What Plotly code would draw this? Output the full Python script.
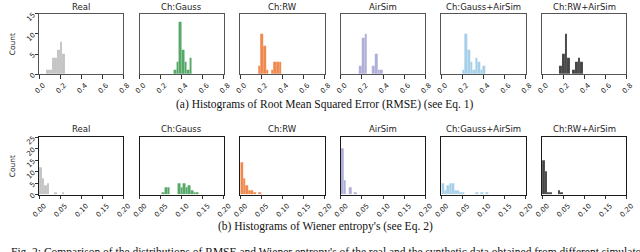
import plotly.graph_objects as go

W, H = 640, 252

names = ["Real", "Ch:Gauss", "Ch:RW", "AirSim", "Ch:Gauss+AirSim", "Ch:RW+AirSim"]
colors = ["#c4c4c4", "#55a868", "#f0884c", "#aeaed9", "#a6d0e8", "#454545"]

# (a) RMSE histograms: first bin edge, bin width, counts per bin
rmse_start = [0.07, 0.326, 0.17, 0.175, 0.197, 0.166]
rmse_width = [0.025, 0.0246, 0.0246, 0.0246, 0.0246, 0.0246]
rmse_real = [1, 1, 4, 4, 6, 8, 5]
rmse_gauss = [1, 3, 13, 6, 3, 1, 4]
rmse_rw = [2, 10, 7, 1, 0, 1, 3, 3, 3]
rmse_airsim = [2, 9, 10, 0, 0, 2, 5, 1, 1]
rmse_gauss_air = [1, 10, 6, 3, 1, 4, 3, 1, 2]
rmse_rw_air = [2, 5, 10, 4, 0, 1, 3, 4, 3]

# (b) Wiener entropy histograms
went_start = [0.0, 0.053, 0.0, 0.0, 0.0, 0.0]
went_width = [0.006, 0.0062, 0.0062, 0.0064, 0.0062, 0.0062]
went_real = [12, 7, 4, 5, 0, 0, 1, 0, 0, 1]
went_gauss = [1, 3, 3, 0, 0, 0, 5, 3, 5, 3, 4, 2, 1, 1]
went_rw = [14, 7, 4, 2, 2, 1, 0, 1]
went_airsim = [20, 6, 0, 3, 0, 1]
went_gauss_air = [5, 2, 4, 5, 5, 2, 2, 1, 1, 0, 0, 0, 0, 1, 0, 1, 0, 1]
went_rw_air = [15, 10, 1, 1, 0, 0, 2, 1]

rmse_ticks = [0.0, 0.2, 0.4, 0.6, 0.8]
rmse_ticktext = ["0.0", "0.2", "0.4", "0.6", "0.8"]
rmse_yticks = [0, 5, 10, 15]
went_ticks = [0.0, 0.05, 0.10, 0.15, 0.20]
went_ticktext = ["0.00", "0.05", "0.10", "0.15", "0.20"]
went_yticks = [0, 5, 10, 15, 20, 25]

caption_a = "(a) Histograms of Root Mean Squared Error (RMSE) (see Eq. 1)"
caption_b = "(b) Histograms of Wiener entropy's (see Eq. 2)"
caption_fig = ("Fig. 2: Comparison of the distributions of RMSE and Wiener entropy's of the real "
               "and the synthetic data obtained from different simulators")

rows = [
    dict(start=rmse_start, width=rmse_width,
         counts=[rmse_real, rmse_gauss, rmse_rw, rmse_airsim, rmse_gauss_air, rmse_rw_air],
         xrange=[0, 0.8], xt=rmse_ticks, xtt=rmse_ticktext, yr=[0, 15], yt=rmse_yticks,
         top=11.3, bottom=73.7, line="#555555", shift=4, tshift=-0.5),
    dict(start=went_start, width=went_width,
         counts=[went_real, went_gauss, went_rw, went_airsim, went_gauss_air, went_rw_air],
         xrange=[0, 0.2], xt=went_ticks, xtt=went_ticktext, yr=[0, 25], yt=went_yticks,
         top=139.3, bottom=198.6, line="#1a1a1a", shift=5, tshift=1),
]

lefts = [32.0, 135.3, 238.7, 342.0, 445.3, 548.7]
pw = 86.5

fig = go.Figure()
layout = dict(width=W, height=H, margin=dict(l=0, r=0, t=0, b=0),
              paper_bgcolor="white", plot_bgcolor="white", showlegend=False,
              bargap=0, annotations=[])

def py(px):
    return 1 - px / H

k = 0
for r, row in enumerate(rows):
    for i in range(6):
        k += 1
        xa = "xaxis" if k == 1 else f"xaxis{k}"
        ya = "yaxis" if k == 1 else f"yaxis{k}"
        xr = "x" if k == 1 else f"x{k}"
        yr = "y" if k == 1 else f"y{k}"
        counts = row["counts"][i]
        w = row["width"][i]
        s = row["start"][i]
        centers = [s + w * (j + 0.5) for j in range(len(counts))]
        fig.add_trace(go.Bar(x=centers, y=counts, width=w, xaxis=xr, yaxis=yr,
                             marker=dict(color=colors[i],
                                         line=dict(color="rgba(255,255,255,0.25)", width=0.3)),
                             hoverinfo="skip"))
        x0 = lefts[i] / W
        x1 = (lefts[i] + pw) / W
        layout[xa] = dict(domain=[x0, x1], range=row["xrange"], anchor=yr,
                          tickmode="array", tickvals=row["xt"], ticktext=row["xtt"],
                          tickangle=-45, ticks="outside", ticklen=3.5, tickwidth=0.8,
                          tickcolor="#333", showline=True, linecolor=row["line"],
                          linewidth=1, mirror=True, showgrid=False, zeroline=False,
                          ticklabelshift=row["shift"],
                          tickfont=dict(family="DejaVu Sans", size=7, color="#222"))
        ydict = dict(domain=[py(row["bottom"]), py(row["top"])], range=row["yr"],
                     anchor=xr, showline=True, linecolor=row["line"], linewidth=1,
                     mirror=True, showgrid=False, zeroline=False)
        if i == 0:
            ydict.update(tickmode="array", tickvals=row["yt"], tickangle=-45,
                         ticks="outside", ticklen=3.5, tickwidth=0.8, tickcolor="#333",
                         tickfont=dict(family="DejaVu Sans", size=7, color="#222"))
        else:
            ydict.update(showticklabels=False, ticks="")
        layout[ya] = ydict
        layout["annotations"].append(dict(
            text=names[i], x=(x0 + x1) / 2, y=py(row["top"]), xref="paper", yref="paper",
            xanchor="center", yanchor="bottom", yshift=row["tshift"], showarrow=False,
            font=dict(family="DejaVu Sans", size=8.5, color="#222")))
    layout["annotations"].append(dict(
        text="Count", x=5.5 / W, y=py((row["top"] + row["bottom"]) / 2), xref="paper",
        yref="paper", xanchor="center", yanchor="middle", textangle=-90, showarrow=False,
        font=dict(family="DejaVu Sans", size=7.5, color="#222")))

serif = "Liberation Serif"
layout["annotations"].append(dict(text=caption_a, x=326 / W, y=py(105.5), xref="paper",
                                  yref="paper", xanchor="center", yanchor="middle",
                                  showarrow=False, font=dict(family=serif, size=11.5, color="#111")))
layout["annotations"].append(dict(text=caption_b, x=326 / W, y=py(232), xref="paper",
                                  yref="paper", xanchor="center", yanchor="middle",
                                  showarrow=False, font=dict(family=serif, size=11.5, color="#111")))
layout["annotations"].append(dict(text=caption_fig, x=1 / W, y=py(250), xref="paper",
                                  yref="paper", xanchor="left", yanchor="top",
                                  showarrow=False, font=dict(family=serif, size=11.5, color="#111")))

fig.update_layout(**layout)
fig.write_html("out.html", config={"displayModeBar": False},
               post_script="document.body.style.margin='0px';document.body.style.overflow='hidden';")
